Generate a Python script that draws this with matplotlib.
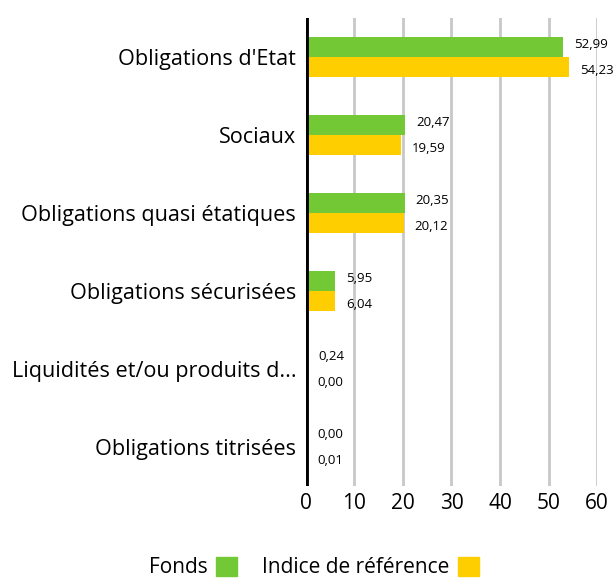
import numpy as np
import matplotlib
matplotlib.use('Agg')
import matplotlib.pyplot as plt
from matplotlib.patches import Patch

categories = ["Obligations d'Etat", "Sociaux", "Obligations quasi étatiques",
              "Obligations sécurisées", "Liquidités et/ou produits d...",
              "Obligations titrisées"]
fonds = [52.99, 20.47, 20.35, 5.95, 0.24, 0.00]
indice = [54.23, 19.59, 20.12, 6.04, 0.00, 0.01]
series_labels = ["Fonds", "Indice de référence"]

green = '#73C935'
yellow = '#FFCE00'

plt.rcParams['font.family'] = ['Open Sans', 'DejaVu Sans']

fig = plt.figure(figsize=(6.13, 5.78), dpi=100)
ax = fig.add_axes([0.499, 0.159, 0.475, 0.810])

y = np.arange(len(categories))
h = 0.26
ax.barh(y - h / 2, fonds, height=h, color=green, zorder=3)
ax.barh(y + h / 2, indice, height=h, color=yellow, zorder=3)

def fmt(v):
    return ('%.2f' % v).replace('.', ',')

for i in range(len(categories)):
    ax.annotate(fmt(fonds[i]), (fonds[i], y[i] - h / 2), xytext=(8, 1.5),
                textcoords='offset points', va='center', ha='left', fontsize=9.5)
    ax.annotate(fmt(indice[i]), (indice[i], y[i] + h / 2), xytext=(8, -2.5),
                textcoords='offset points', va='center', ha='left', fontsize=9.5)

ax.set_xlim(0, 60)
ax.set_ylim(len(categories) - 0.5, -0.5)
ax.set_xticks(range(0, 61, 10))
ax.set_yticks(y)
ax.set_yticklabels(categories, fontsize=15.6)
ax.tick_params(axis='x', labelsize=15, length=0, pad=5)
ax.tick_params(axis='y', length=0, pad=7)
for s in ax.spines.values():
    s.set_visible(False)
ax.grid(axis='x', color='#c8c8c8', linewidth=2, zorder=0)
ax.axvline(0, color='black', linewidth=3.5, zorder=4)

handles = [Patch(color=green), Patch(color=yellow)]
fig.legend(handles, series_labels, loc='center', bbox_to_anchor=(0.512, 0.018),
           ncol=2, frameon=False, markerfirst=False, fontsize=15,
           handlelength=1.0, handleheight=1.0, handletextpad=0.4, columnspacing=1.2)

fig.savefig('out.png', dpi=100)
